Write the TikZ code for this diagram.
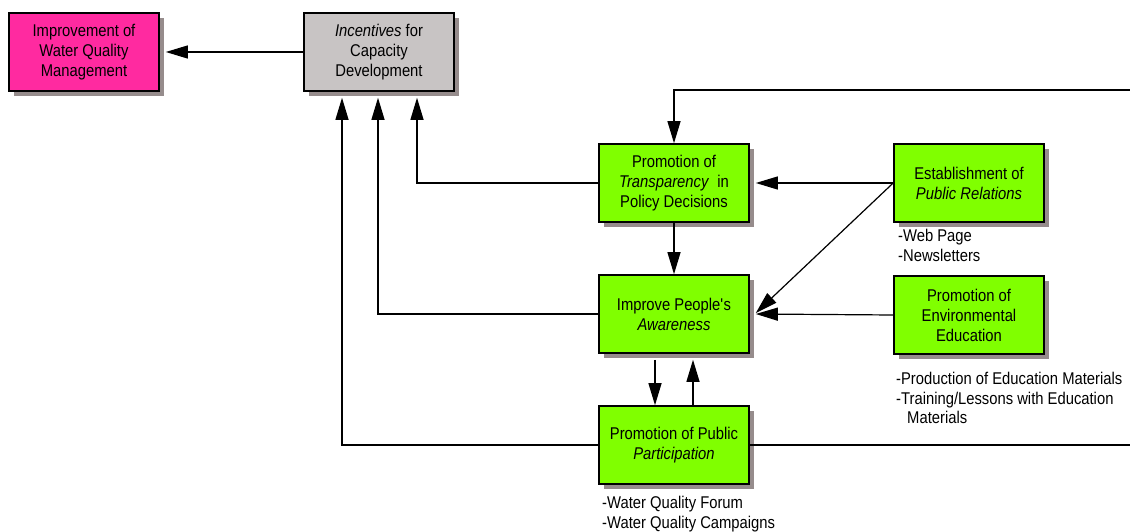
\documentclass[tikz,border=0pt]{standalone}
\usepackage{fontspec}
\setmainfont{Liberation Sans}[FakeStretch=0.87]
\usetikzlibrary{arrows.meta,shadows}
\definecolor{boxgreen}{RGB}{128,255,0}
\definecolor{boxpink}{RGB}{255,42,160}
\definecolor{boxgray}{RGB}{200,196,196}
\definecolor{shadowgray}{RGB}{150,140,140}

\begin{document}
\begin{tikzpicture}[x=1pt,y=-1pt,
  box/.style={draw=black, line width=1.6pt, minimum width=150pt, minimum height=78pt, inner sep=2pt, align=center,
    font=\fontsize{17}{20}\selectfont, drop shadow={shadow xshift=5pt, shadow yshift=-5pt, fill=shadowgray, opacity=1}},
  note/.style={align=left, anchor=north west, inner sep=0pt, font=\fontsize{17}{19.5}\selectfont},
  link/.style={line width=1.2pt, -{Triangle[length=22pt,width=13pt]}}]
\useasboundingbox (0,0) rectangle (1130,532);

\node[box, fill=boxpink] (wqm) at (84,52) {Improvement of\\Water Quality\\Management};
\node[box, fill=boxgray] (incent) at (379,52) {\textit{Incentives} for\\Capacity\\Development};
\node[box, fill=boxgreen] (transp) at (674,183) {Promotion of\\\textit{Transparency}~ in\\Policy Decisions};
\node[box, fill=boxgreen] (pubrel) at (969,183) {Establishment of\\\textit{Public Relations}};
\node[box, fill=boxgreen] (aware) at (674,314) {Improve People\textquotesingle s\\\textit{Awareness}};
\node[box, fill=boxgreen] (envedu) at (969,315) {Promotion of\\Environmental\\Education};
\node[box, fill=boxgreen] (partic) at (674,445) {Promotion of Public\\\textit{Participation}};

\node[note] (pubrelnote) at (898,229) {-Web Page\\-Newsletters};
\node[note] (envedunote) at (896,372) {-Production of Education Materials\\-Training/Lessons with Education\\\hspace{11pt}Materials};
\node[note] (particnote) at (602,496) {-Water Quality Forum\\-Water Quality Campaigns};

\coordinate (rimlow) at (1136,445);
\coordinate (rimtop) at (1136,90);

\draw[link] (incent.west) -- ([xshift=6pt]wqm.east);
\draw[link] (transp.west) -| ([xshift=38pt,yshift=-6pt]incent.south);
\draw[link] (aware.west) -| ([xshift=-1pt,yshift=-6pt]incent.south);
\draw[link] (partic.west) -| ([xshift=-37pt,yshift=-6pt]incent.south);
\draw[link] (pubrel.west) -- ([xshift=6pt]transp.east);
\draw[link] (pubrel.west) -- ([xshift=6pt,yshift=1pt]aware.east);
\draw[link] (envedu.west) -- ([xshift=6pt]aware.east);
\draw[link] (transp.south) -- (aware.north);
\draw[link] ([xshift=-19pt,yshift=-6pt]aware.south) -- ([xshift=-19pt]partic.north);
\draw[link] ([xshift=19pt]partic.north) -- ([xshift=19pt,yshift=-6pt]aware.south);
\draw[line width=1.2pt] (partic.east) -- (rimlow) -- (rimtop);
\draw[link] (rimtop) -| (transp.north);
\end{tikzpicture}
\end{document}
